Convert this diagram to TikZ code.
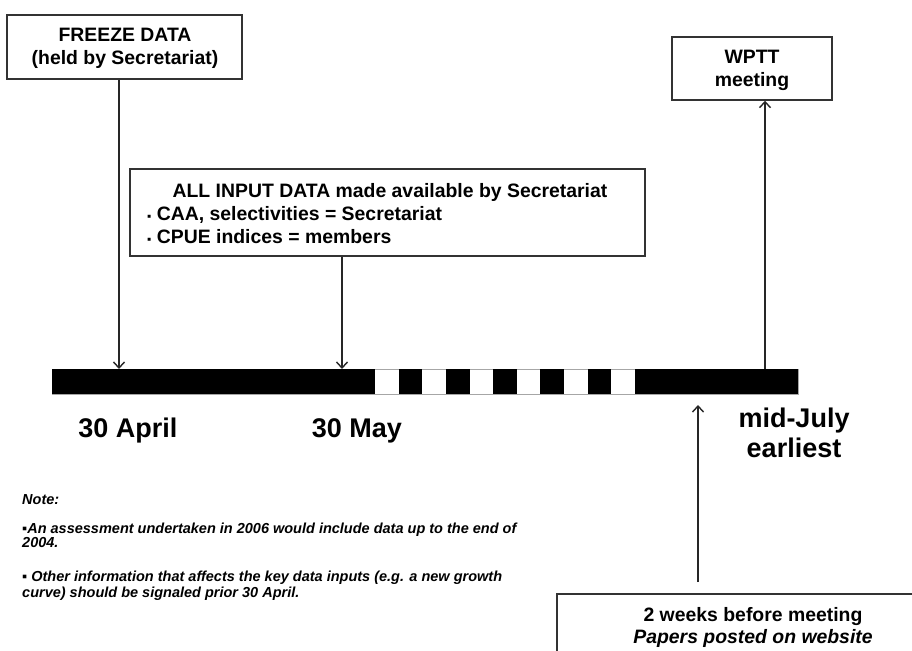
\documentclass[tikz,border=0pt]{standalone}
\usepackage{fontspec}
\setmainfont{Liberation Sans}
\usetikzlibrary{arrows.meta}
\begin{document}
\begin{tikzpicture}[x=1pt,y=-1pt,
  box/.style={draw=black!80, line width=1.4pt, inner sep=0pt, fill=white},
  lbl/.style={font=\fontsize{19.4}{23}\selectfont\bfseries, inner sep=0pt, anchor=base},
  lblw/.style={font=\fontsize{19.4}{23}\selectfont\bfseries, inner sep=0pt, anchor=base west},
  datel/.style={font=\fontsize{27}{31}\selectfont\bfseries, inner sep=0pt, anchor=base},
  notel/.style={font=\fontsize{14.5}{16}\selectfont\bfseries\itshape, inner sep=0pt, anchor=base west},
  arr/.style={draw=black!85, line width=1.5pt, -{Straight Barb[length=6pt,width=11pt,line width=1.4pt]}},
  seg/.style={fill=black, draw=none}
]
\useasboundingbox (0,0) rectangle (912,650);
\clip (0,0) rectangle (912,650);
\fill[white] (0,0) rectangle (912,650);

% timeline bar
\node[draw=black!35, line width=0.6pt, fill=white, minimum width=746pt, minimum height=25pt, inner sep=0pt] (bar) at (425,381.5) {};
\fill[seg] (52,369) rectangle (375,394);
\foreach \k in {1,3,5,7,9}{
  \fill[seg] ({375+\k*23.64},369) rectangle ({375+(\k+1)*23.64},394);
}
\fill[seg] (635,369) rectangle (798,394);

\coordinate (t1) at (119,369);
\coordinate (t2) at (342,369);
\coordinate (t3) at (765,369);
\coordinate (t4) at (698,405);
\coordinate (b4) at (698,582);

% FREEZE DATA
\node[box, minimum width=235pt, minimum height=64pt] (freeze) at (124.5,47) {};
\node[lbl] (freezeA) at (125,42) {FREEZE DATA};
\node[lbl] (freezeB) at (125,64.5) {(held by Secretariat)};

% ALL INPUT DATA
\node[box, minimum width=515pt, minimum height=87pt] (input) at (387.5,212.5) {};
\node[lbl] (inputA) at (390,197) {ALL INPUT DATA made available by Secretariat};
\node[lblw] (inputB) at (147,220.5) {\fontsize{12}{12}\selectfont ▪\fontsize{19.4}{23}\selectfont\ CAA, selectivities = Secretariat};
\node[lblw] (inputC) at (147,243) {\fontsize{12}{12}\selectfont ▪\fontsize{19.4}{23}\selectfont\ CPUE indices = members};

% WPTT meeting
\node[box, minimum width=160pt, minimum height=63pt] (wptt) at (752,68.5) {};
\node[lbl] (wpttA) at (752,64) {WPTT};
\node[lbl] (wpttB) at (752,87) {meeting};

% bottom box
\node[box, minimum width=390pt, minimum height=86pt] (papers) at (752,637) {};
\node[lbl] (papersA) at (753,621) {2 weeks before meeting};
\node[lbl, font=\fontsize{19.4}{23}\selectfont\bfseries\itshape] (papersB) at (753,643) {Papers posted on website};

% arrows
\draw[arr] (freeze.south -| t1) -- (t1);
\draw[arr] (input.south -| t2) -- (t2);
\draw[arr] (t3) -- (wptt.south -| t3);
\draw[arr] (b4) -- (t4);

% dates
\node[datel] (apr) at (128,437) {30 April};
\node[datel] (may) at (357,437) {30 May};
\node[datel] (jul) at (794,427) {mid-July};
\node[datel] (jul2) at (794,457) {earliest};

% note
\node[notel] (note) at (22,504) {Note:};
\node[notel] (noteA) at (22,533) {▪An assessment undertaken in 2006 would include data up to the end of};
\node[notel] (noteB) at (22,547.5) {2004.};
\node[notel] (noteC) at (22,581) {▪ Other information that affects the key data inputs (e.g. a new growth};
\node[notel] (noteD) at (22,597) {curve) should be signaled prior 30 April.};
\end{tikzpicture}
\end{document}
